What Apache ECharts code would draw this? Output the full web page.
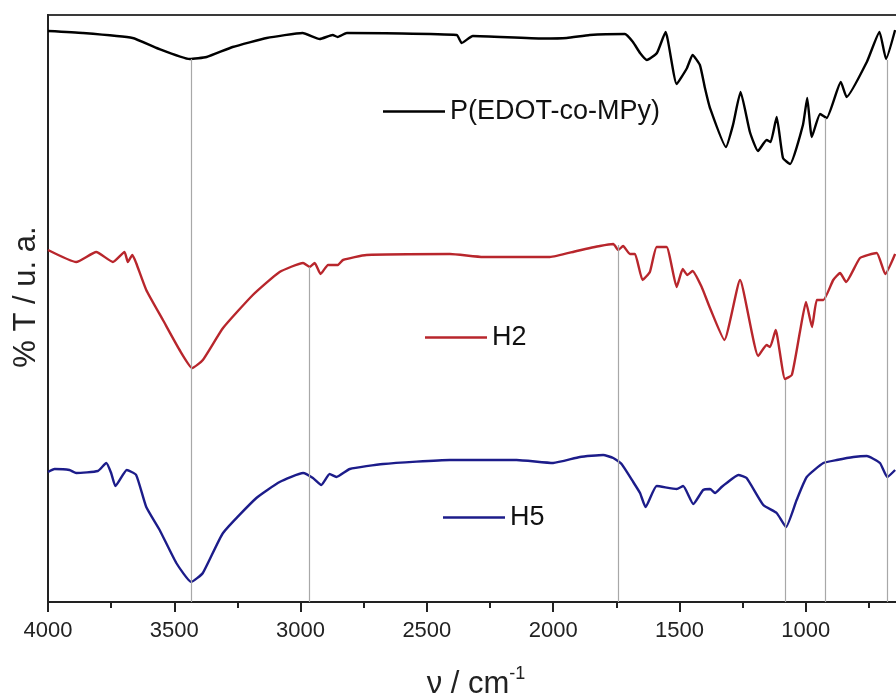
<!DOCTYPE html>
<html>
<head>
<meta charset="utf-8">
<script src="https://cdn.jsdelivr.net/npm/echarts@6/dist/echarts.min.js"></script>
<style>html,body{margin:0;padding:0;background:#fff;}#c{width:896px;height:693px;}</style>
</head>
<body>
<div id="c"></div>
<script>
// Wavenumbers (cm-1) and relative transmittance (arbitrary units)
const blackWn = [4000,3863,3665,3570,3439,3372,3269,3134,2992,2924,2873,2853,2817,2382,2362,2318,2041,1946,1855,1716,1684,1656,1629,1589,1555,1511,1470,1448,1419,1399,1379,1316,1288,1258,1221,1189,1155,1139,1115,1090,1062,1011,994,976,943,917,861,838,758,708,682,646];
const blackT  = [571,569,564,554,543,545,555,564,569,563,567,565,569,567,559,566,563.5,564,567,568,560,549,542,549,570,518,534,547,537,514,494,455,477,510,470,451,462,460,485,444,438,477,504,465,488,484,520,505,540,570,543,572];

const redWn = [4000,3888,3809,3743,3697,3684,3666,3651,3611,3545,3479,3429,3387,3307,3189,3083,2990,2964,2944,2921,2891,2852,2832,2739,2409,2277,2013,1907,1815,1762,1742,1723,1696,1676,1646,1617,1590,1551,1511,1487,1469,1448,1412,1379,1322,1260,1188,1155,1141,1119,1082,1055,1023,999,975,956,930,891,864,840,785,719,685,646];
const redT  = [352,340,350,340,350,340,347,339,312,282,252,234,242,274,307,330,339,335,339,328,337,337,342,347,348,345,345,351,356,358,352,356,348,348,322,330,355,355,315,333,327,331,315,294,262,322,246,257,255,272,223,227,270,300,275,302,302,322,329,320,344,349,328,348];

const blueWn = [4000,3974,3915,3888,3803,3769,3750,3733,3688,3651,3611,3558,3492,3433,3387,3307,3175,3083,2990,2951,2918,2885,2858,2805,2673,2409,2145,2000,1894,1802,1762,1729,1683,1656,1634,1590,1511,1485,1445,1406,1379,1359,1333,1313,1267,1234,1168,1115,1078,1036,996,930,877,811,758,706,677,646];
const blueT  = [130,133,132,129,131,139,129,116,132,127,95,72,39,20,29,69,104,120,129,124,117,128,125,133,138,142,142,139,145,147,144,138,120,109,95,116,113,116,98,112,113,109,115,119,127,124,97,89,75,102,125,139,142,145,146,139,125,132];

// Vertical guide lines: position and top end
const guideWn  = [3433,2965,1741,1081,922,679];
const guideTop = [543,335,357,222,484,542];

const seriesNames = ['P(EDOT-co-MPy)','H2','H5'];
const seriesColors = ['#000000','#b8262c','#1c1c8a'];
const xTicks = [500,4000,500]; // min, max, interval

const pair = (xs, ys) => xs.map((x, i) => [x, ys[i]]);

const chart = echarts.init(document.getElementById('c'));
const legendBase = {
  orient: 'horizontal', padding: 0, itemWidth: 62, itemHeight: 2.5, icon: 'rect',
  textStyle: {fontFamily: 'Liberation Sans, Arial', fontSize: 27, color: '#111'},
  selectedMode: false
};
chart.setOption({
  animation: false,
  backgroundColor: '#fff',
  grid: {left: 48, right: -36, top: 15, bottom: 91, show: true, borderColor: '#3a3a3a', borderWidth: 2,
         containLabel: false, outerBoundsMode: 'none'},
  xAxis: {
    type: 'value', inverse: true, min: xTicks[0], max: xTicks[1], interval: xTicks[2],
    axisLine: {lineStyle: {color: '#222', width: 2}},
    axisTick: {inside: false, length: 10, lineStyle: {color: '#222', width: 2}},
    minorTick: {show: true, splitNumber: 2, length: 6, lineStyle: {color: '#222', width: 2}},
    splitLine: {show: false},
    axisLabel: {fontFamily: 'Liberation Sans, Arial', fontSize: 22, color: '#222', margin: 18,
                formatter: v => String(v)},
    name: '{a|ν / cm}{s|-1}', nameLocation: 'middle', nameGap: 63,
    nameTextStyle: {padding: [0, 28, 0, 0], rich: {
      a: {fontFamily: 'Liberation Sans, Arial', fontSize: 31, color: '#222', lineHeight: 38},
      s: {fontFamily: 'Liberation Sans, Arial', fontSize: 18, color: '#222', verticalAlign: 'top', lineHeight: 38, padding: [0,0,15,0]}
    }}
  },
  yAxis: {
    type: 'value', min: 0, max: 587,
    axisLine: {show: true, lineStyle: {color: '#222', width: 2}},
    axisTick: {show: false}, axisLabel: {show: false}, splitLine: {show: false}
  },
  legend: [
    Object.assign({}, legendBase, {data: [seriesNames[0]], left: 383, top: 98}),
    Object.assign({}, legendBase, {data: [seriesNames[1]], left: 425, top: 324}),
    Object.assign({}, legendBase, {data: [seriesNames[2]], left: 443, top: 504})
  ],
  graphic: [{
    type: 'text', x: 26, y: 297, rotation: Math.PI / 2,
    style: {text: '% T / u. a.', fontFamily: 'Liberation Sans, Arial', fontSize: 31, fill: '#222', align: 'center', verticalAlign: 'middle'}
  }],
  series: [
    {
      type: 'line', name: 'guides', data: [], silent: true, z: 1,
      markLine: {
        silent: true, symbol: 'none', label: {show: false},
        lineStyle: {color: '#a8a8a8', width: 1.2, type: 'solid'},
        data: guideWn.map((w, i) => [{coord: [w, 0]}, {coord: [w, guideTop[i]]}])
      }
    },
    {type: 'line', name: seriesNames[0], data: pair(blackWn, blackT), symbol: 'none', smooth: 0.15, z: 3,
     lineStyle: {color: seriesColors[0], width: 2.4}, itemStyle: {color: seriesColors[0]}},
    {type: 'line', name: seriesNames[1], data: pair(redWn, redT), symbol: 'none', smooth: 0.15, z: 3,
     lineStyle: {color: seriesColors[1], width: 2.4}, itemStyle: {color: seriesColors[1]}},
    {type: 'line', name: seriesNames[2], data: pair(blueWn, blueT), symbol: 'none', smooth: 0.15, z: 3,
     lineStyle: {color: seriesColors[2], width: 2.4}, itemStyle: {color: seriesColors[2]}}
  ]
});
</script>
</body>
</html>
